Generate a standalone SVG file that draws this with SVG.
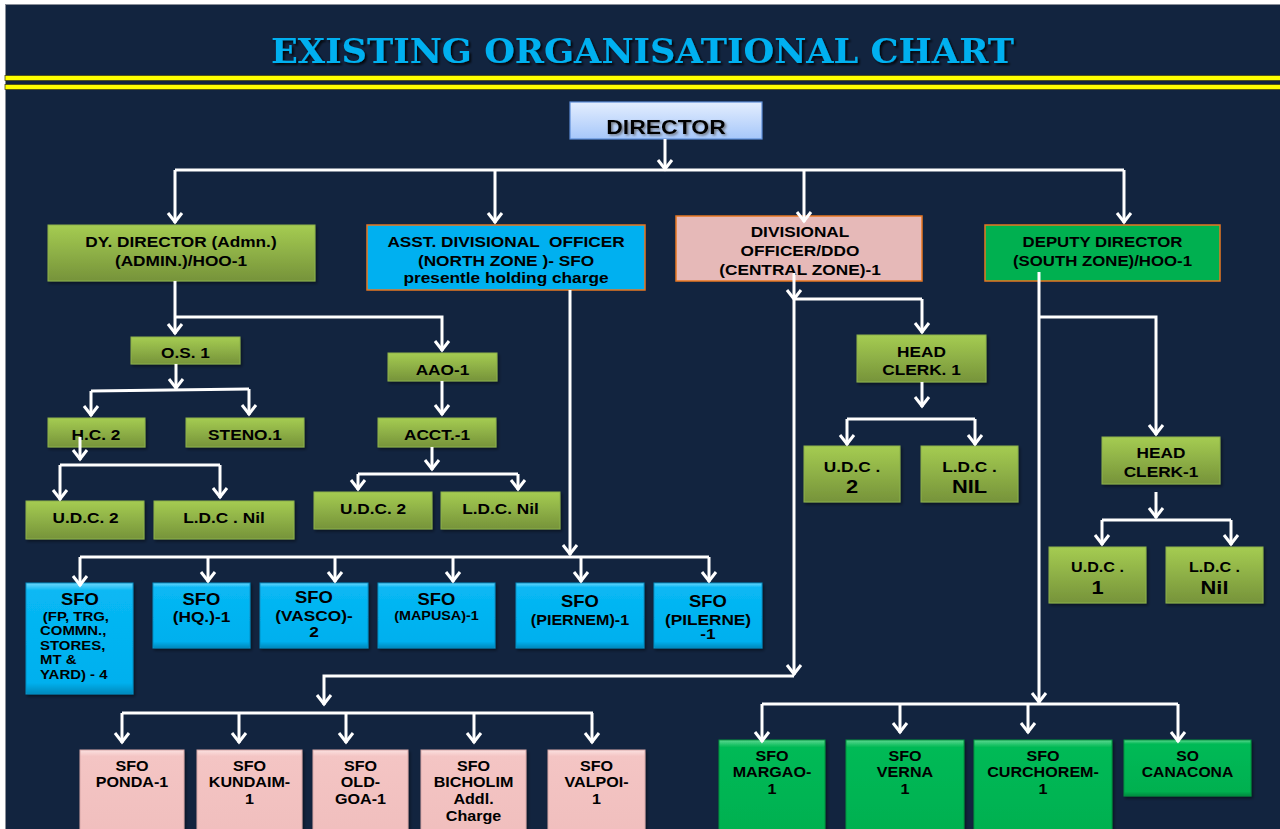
<svg xmlns="http://www.w3.org/2000/svg" width="1280" height="829" viewBox="0 0 1280 829">
<defs>
<style>
.t{font-family:"Liberation Sans",Arial,sans-serif;font-weight:bold;fill:#000;text-anchor:middle}
.s12{font-size:12.5px}.s13{font-size:13px}.s14{font-size:14px}.s15{font-size:15px}.s16{font-size:16px}.s19{font-size:19px}.s20{font-size:20px}
.lv1{stroke:#E87722;stroke-width:1.5}
.grn{fill:url(#gGreen);stroke:#8DB24A;stroke-width:1;filter:url(#sh)}
.blu{fill:url(#gBlue);stroke:#0A8FC4;stroke-width:1;filter:url(#sh)}
.pnk{fill:url(#gPink);stroke:#D8A8A7;stroke-width:1;filter:url(#sh)}
.gbv{fill:url(#gGrn2);stroke:#04933F;stroke-width:1;filter:url(#sh)}
.ln{fill:none;stroke:#fff;stroke-width:3}
.ar{marker-end:url(#ah)}
</style>
<linearGradient id="gGreen" x1="0" y1="0" x2="0" y2="1">
<stop offset="0" stop-color="#A5CC52"/><stop offset="1" stop-color="#76933A"/>
</linearGradient>
<linearGradient id="gDir" x1="0" y1="0" x2="0" y2="1">
<stop offset="0" stop-color="#E4EEFE"/><stop offset="1" stop-color="#A6C7FA"/>
</linearGradient>
<linearGradient id="gBlue" x1="0" y1="0" x2="0" y2="1">
<stop offset="0" stop-color="#6ED6FA"/><stop offset="0.07" stop-color="#08B8F4"/><stop offset="0.9" stop-color="#00B0EE"/><stop offset="1" stop-color="#0089BC"/>
</linearGradient>
<linearGradient id="gPink" x1="0" y1="0" x2="0" y2="1">
<stop offset="0" stop-color="#FBE1E0"/><stop offset="0.07" stop-color="#F4C5C4"/><stop offset="1" stop-color="#F0BEBD"/>
</linearGradient>
<linearGradient id="gGrn2" x1="0" y1="0" x2="0" y2="1">
<stop offset="0" stop-color="#5FD891"/><stop offset="0.07" stop-color="#00BA56"/><stop offset="0.92" stop-color="#00B050"/><stop offset="1" stop-color="#008A3E"/>
</linearGradient>
<filter id="sh" x="-10%" y="-10%" width="130%" height="140%">
<feDropShadow dx="1.5" dy="2" stdDeviation="1.5" flood-color="#000" flood-opacity="0.45"/>
</filter>
<filter id="tsh" x="-5%" y="-20%" width="110%" height="150%">
<feDropShadow dx="2" dy="2" stdDeviation="1" flood-color="#000" flood-opacity="0.85"/>
</filter>
<filter id="dsh" x="-5%" y="-20%" width="110%" height="150%">
<feDropShadow dx="1.5" dy="1.5" stdDeviation="0.8" flood-color="#555" flood-opacity="0.7"/>
</filter>
<marker id="ah" markerUnits="userSpaceOnUse" viewBox="-12 -9 14 18" markerWidth="14" markerHeight="18" refX="0" refY="0" orient="auto" overflow="visible">
<path d="M-10,-7 L-1,0 L-10,7" fill="none" stroke="#fff" stroke-width="3"/>
</marker>
</defs>

<!-- slide background -->
<rect x="0" y="0" width="1280" height="829" fill="#fff"/>
<rect x="5.5" y="4.5" width="1280" height="830" fill="#12243F" stroke="#8A8F99" stroke-width="1"/>

<!-- heading -->
<text x="271" y="63" textLength="743" lengthAdjust="spacingAndGlyphs" font-family="'DejaVu Serif','Liberation Serif',serif" font-weight="bold" font-size="33" fill="#00B0F0" filter="url(#tsh)">EXISTING ORGANISATIONAL CHART</text>
<rect x="5" y="75.5" width="1276" height="5" fill="#FFFF00" stroke="#4a4a10" stroke-width="0.8"/>
<rect x="5" y="84.5" width="1276" height="5" fill="#FFFF00" stroke="#4a4a10" stroke-width="0.8"/>

<!-- top -->
<g id="n-director">
<rect x="570" y="102" width="192" height="37" fill="url(#gDir)" stroke="#5E8ED8" stroke-width="1.2"/>
<text class="t s20" transform="matrix(1.15 0 0 1 666 0)" x="0" y="134" filter="url(#dsh)">DIRECTOR</text>
</g>

<!-- level 1 -->
<g id="n-dy-director">
<rect x="48" y="225" width="267" height="56" fill="url(#gGreen)" stroke="#8DB24A" filter="url(#sh)"/>
<text class="t s15" transform="matrix(1.15 0 0 1 181 0)"><tspan x="0" y="246.7">DY. DIRECTOR (Admn.)</tspan><tspan x="0" y="266">(ADMIN.)/HOO-1</tspan></text>
</g>
<g id="n-asst-div">
<rect class="lv1" x="367" y="225" width="278" height="65" fill="#00B0F0"/>
<text class="t s15" transform="matrix(1.15 0 0 1 506 0)" style="white-space:pre"><tspan x="0" y="246.7">ASST. DIVISIONAL  OFFICER</tspan><tspan x="0" y="266">(NORTH ZONE )- SFO</tspan><tspan x="0" y="283.3">presentle holding charge</tspan></text>
</g>
<g id="n-div-officer">
<rect class="lv1" x="676" y="216" width="246" height="65" fill="#E6B9B8"/>
<text class="t s15" transform="matrix(1.15 0 0 1 800 0)"><tspan x="0" y="237.3">DIVISIONAL</tspan><tspan x="0" y="256">OFFICER/DDO</tspan><tspan x="0" y="274.7">(CENTRAL ZONE)-1</tspan></text>
</g>
<g id="n-deputy-director">
<rect class="lv1" x="985" y="225" width="235" height="56" fill="#00B050"/>
<text class="t s15" transform="matrix(1.12 0 0 1 1102.5 0)"><tspan x="0" y="246.7">DEPUTY DIRECTOR</tspan><tspan x="0" y="266">(SOUTH ZONE)/HOO-1</tspan></text>
</g>

<!-- admin branch -->
<g id="n-os"><rect class="grn" x="131" y="337" width="109" height="27"/>
<text class="t s15" transform="matrix(1.15 0 0 1 185.5 0)" x="0" y="358.5">O.S. 1</text></g>
<g id="n-aao"><rect class="grn" x="388" y="353" width="109" height="28"/>
<text class="t s15" transform="matrix(1.15 0 0 1 442.5 0)" x="0" y="375.5">AAO-1</text></g>
<g id="n-hc"><rect class="grn" x="48" y="418" width="97" height="29"/>
<text class="t s15" transform="matrix(1.15 0 0 1 96 0)" x="0" y="440.5">H.C. 2</text></g>
<g id="n-steno"><rect class="grn" x="186" y="418" width="118" height="29"/>
<text class="t s15" transform="matrix(1.15 0 0 1 245 0)" x="0" y="440.5">STENO.1</text></g>
<g id="n-acct"><rect class="grn" x="378" y="418" width="118" height="29"/>
<text class="t s15" transform="matrix(1.15 0 0 1 437 0)" x="0" y="440.5">ACCT.-1</text></g>
<g id="n-udc-a"><rect class="grn" x="26" y="501" width="118" height="38"/>
<text class="t s15" transform="matrix(1.15 0 0 1 85.5 0)" x="0" y="523.3">U.D.C. 2</text></g>
<g id="n-ldc-a"><rect class="grn" x="154" y="501" width="140" height="38"/>
<text class="t s15" transform="matrix(1.15 0 0 1 224 0)" x="0" y="523.3">L.D.C . Nil</text></g>
<g id="n-udc-b"><rect class="grn" x="314" y="492" width="118" height="37"/>
<text class="t s15" transform="matrix(1.15 0 0 1 373 0)" x="0" y="514.3">U.D.C. 2</text></g>
<g id="n-ldc-b"><rect class="grn" x="441" y="492" width="119" height="37"/>
<text class="t s15" transform="matrix(1.15 0 0 1 500.5 0)" x="0" y="514.3">L.D.C. Nil</text></g>

<!-- central zone clerks -->
<g id="n-head-clerk-c"><rect class="grn" x="857" y="335" width="129" height="47"/>
<text class="t s15" transform="matrix(1.15 0 0 1 921.5 0)"><tspan x="0" y="356.7">HEAD</tspan><tspan x="0" y="375.3">CLERK. 1</tspan></text></g>
<g id="n-udc-c"><rect class="grn" x="804" y="446" width="96" height="56"/>
<text class="t s15" transform="matrix(1.15 0 0 1 852 0)" x="0" y="471.7">U.D.C .</text>
<text class="t s19" transform="matrix(1.15 0 0 1 852 0)" x="0" y="492.7">2</text></g>
<g id="n-ldc-c"><rect class="grn" x="921" y="446" width="97" height="56"/>
<text class="t s15" transform="matrix(1.15 0 0 1 969.5 0)" x="0" y="471.7">L.D.C .</text>
<text class="t s19" transform="matrix(1.15 0 0 1 969.5 0)" x="0" y="492.7">NIL</text></g>

<!-- south zone clerks -->
<g id="n-head-clerk-s"><rect class="grn" x="1102" y="437" width="118" height="47"/>
<text class="t s15" transform="matrix(1.15 0 0 1 1161 0)"><tspan x="0" y="458.3">HEAD</tspan><tspan x="0" y="477">CLERK-1</tspan></text></g>
<g id="n-udc-s"><rect class="grn" x="1049" y="547" width="97" height="56"/>
<text class="t s14" transform="matrix(1.15 0 0 1 1097.5 0)" x="0" y="572.3">U.D.C .</text>
<text class="t s19" transform="matrix(1.15 0 0 1 1097.5 0)" x="0" y="594.3">1</text></g>
<g id="n-ldc-s"><rect class="grn" x="1166" y="547" width="97" height="56"/>
<text class="t s14" transform="matrix(1.15 0 0 1 1214.5 0)" x="0" y="572.3">L.D.C .</text>
<text class="t s19" transform="matrix(1.15 0 0 1 1214.5 0)" x="0" y="594.3">Nil</text></g>

<!-- north zone stations -->
<g id="n-sfo-fp"><rect class="blu" x="26" y="583" width="107" height="111"/>
<text class="t s16" transform="matrix(1.15 0 0 1 80 0)" x="0" y="605">SFO</text>
<text class="t s13" transform="matrix(1.15 0 0 1 40 0)" style="text-anchor:start"><tspan x="2.5" y="621">(FP, TRG,</tspan><tspan x="0" y="635.5">COMMN.,</tspan><tspan x="0" y="649.8">STORES,</tspan><tspan x="0" y="664.3">MT &amp;</tspan><tspan x="0" y="679.3">YARD)  - 4</tspan></text></g>
<g id="n-sfo-hq"><rect class="blu" x="153" y="583" width="97" height="65"/>
<text class="t s16" transform="matrix(1.15 0 0 1 201.5 0)" x="0" y="605">SFO</text>
<text class="t s15" transform="matrix(1.15 0 0 1 201.5 0)" x="0" y="621.7">(HQ.)-1</text></g>
<g id="n-sfo-vasco"><rect class="blu" x="260" y="583" width="108" height="65"/>
<text class="t s16" transform="matrix(1.15 0 0 1 314 0)" x="0" y="603.3">SFO</text>
<text class="t s15" transform="matrix(1.15 0 0 1 314 0)"><tspan x="0" y="621">(VASCO)-</tspan><tspan x="0" y="636.7">2</tspan></text></g>
<g id="n-sfo-mapusa"><rect class="blu" x="378" y="583" width="117" height="65"/>
<text class="t s16" transform="matrix(1.15 0 0 1 436.5 0)" x="0" y="605">SFO</text>
<text class="t s12" transform="matrix(1.15 0 0 1 436.5 0)" x="0" y="620.3">(MAPUSA)-1</text></g>
<g id="n-sfo-piernem"><rect class="blu" x="516" y="583" width="128" height="65"/>
<text class="t s16" transform="matrix(1.15 0 0 1 580 0)" x="0" y="606.7">SFO</text>
<text class="t s14" transform="matrix(1.15 0 0 1 580 0)" x="0" y="625">(PIERNEM)-1</text></g>
<g id="n-sfo-pilerne"><rect class="blu" x="654" y="583" width="108" height="65"/>
<text class="t s16" transform="matrix(1.15 0 0 1 708 0)" x="0" y="606.7">SFO</text>
<text class="t s15" transform="matrix(1.15 0 0 1 708 0)"><tspan x="0" y="625">(PILERNE)</tspan><tspan x="0" y="639.3">-1</tspan></text></g>

<!-- central zone stations -->
<g id="n-sfo-ponda"><rect class="pnk" x="80" y="750" width="104" height="90"/>
<text class="t s14" transform="matrix(1.15 0 0 1 132 0)"><tspan x="0" y="771">SFO</tspan><tspan x="0" y="786.7">PONDA-1</tspan></text></g>
<g id="n-sfo-kundaim"><rect class="pnk" x="197" y="750" width="105" height="90"/>
<text class="t s14" transform="matrix(1.15 0 0 1 249.5 0)"><tspan x="0" y="771">SFO</tspan><tspan x="0" y="786.7">KUNDAIM-</tspan><tspan x="0" y="804">1</tspan></text></g>
<g id="n-sfo-oldgoa"><rect class="pnk" x="313" y="750" width="95" height="90"/>
<text class="t s14" transform="matrix(1.15 0 0 1 360.5 0)"><tspan x="0" y="771">SFO</tspan><tspan x="0" y="786.7">OLD-</tspan><tspan x="0" y="804">GOA-1</tspan></text></g>
<g id="n-sfo-bicholim"><rect class="pnk" x="421" y="750" width="105" height="90"/>
<text class="t s14" transform="matrix(1.15 0 0 1 473.5 0)"><tspan x="0" y="771">SFO</tspan><tspan x="0" y="786.7">BICHOLIM</tspan><tspan x="0" y="804">Addl.</tspan><tspan x="0" y="820.7">Charge</tspan></text></g>
<g id="n-sfo-valpoi"><rect class="pnk" x="548" y="750" width="97" height="90"/>
<text class="t s14" transform="matrix(1.15 0 0 1 596.5 0)"><tspan x="0" y="771">SFO</tspan><tspan x="0" y="786.7">VALPOI-</tspan><tspan x="0" y="804">1</tspan></text></g>

<!-- south zone stations -->
<g id="n-sfo-margao"><rect class="gbv" x="719" y="740" width="106" height="100"/>
<text class="t s14" transform="matrix(1.15 0 0 1 772 0)"><tspan x="0" y="760.7">SFO</tspan><tspan x="0" y="777.3">MARGAO-</tspan><tspan x="0" y="794">1</tspan></text></g>
<g id="n-sfo-verna"><rect class="gbv" x="846" y="740" width="118" height="100"/>
<text class="t s14" transform="matrix(1.15 0 0 1 905 0)"><tspan x="0" y="760.7">SFO</tspan><tspan x="0" y="777.3">VERNA</tspan><tspan x="0" y="794">1</tspan></text></g>
<g id="n-sfo-curchorem"><rect class="gbv" x="974" y="740" width="138" height="100"/>
<text class="t s14" transform="matrix(1.15 0 0 1 1043 0)"><tspan x="0" y="760.7">SFO</tspan><tspan x="0" y="777.3">CURCHOREM-</tspan><tspan x="0" y="794">1</tspan></text></g>
<g id="n-so-canacona"><rect class="gbv" x="1124" y="740" width="127" height="56"/>
<text class="t s14" transform="matrix(1.12 0 0 1 1187.5 0)"><tspan x="0" y="760.7">SO</tspan><tspan x="0" y="777.3">CANACONA</tspan></text></g>

<!-- connectors -->
<g id="connectors" class="ln">
<path class="ar" d="M665,139 V170"/>
<path d="M175,170 H1124"/>
<path class="ar" d="M175,170 V223"/>
<path class="ar" d="M495,170 V223"/>
<path class="ar" d="M804,170 V222"/>
<path class="ar" d="M1124,170 V223"/>

<path class="ar" d="M175,281 V334"/>
<path class="ar" d="M175,317 H442 V351"/>
<path class="ar" d="M176,364 V389"/>
<path d="M91,391 L249,389"/>
<path class="ar" d="M91,391 V416"/>
<path class="ar" d="M249,389 V415"/>
<path class="ar" d="M80,437 V460"/>
<path d="M60,465 H220"/>
<path class="ar" d="M60,465 V500"/>
<path class="ar" d="M220,465 V498"/>
<path class="ar" d="M442,381 V415"/>
<path class="ar" d="M432,447 V470"/>
<path d="M358,474 H518"/>
<path class="ar" d="M358,474 V490"/>
<path class="ar" d="M518,474 V490"/>

<path class="ar" d="M570,290 V555"/>
<path d="M80,557 H709"/>
<path class="ar" d="M80,557 V586"/>
<path class="ar" d="M208,557 V582"/>
<path class="ar" d="M335,557 V582"/>
<path class="ar" d="M453,557 V582"/>
<path class="ar" d="M581,557 V582"/>
<path class="ar" d="M709,557 V582"/>

<path class="ar" d="M794,273 V300"/>
<path class="ar" d="M794,300 V675"/>
<path class="ar" d="M922,299 V333"/>
<path d="M794,299 H922"/>
<path class="ar" d="M794,676 H324 V705"/>
<path d="M122,713 H593"/>
<path class="ar" d="M122,713 V743"/>
<path class="ar" d="M239,713 V743"/>
<path class="ar" d="M346,713 V743"/>
<path class="ar" d="M474,713 V743"/>
<path class="ar" d="M592,713 V743"/>
<path class="ar" d="M922,382 V407"/>
<path d="M847,419 H975"/>
<path class="ar" d="M847,419 V445"/>
<path class="ar" d="M975,419 V445"/>

<path class="ar" d="M1039,272 V703"/>
<path class="ar" d="M1039,317 H1156 V435"/>
<path class="ar" d="M1156,492 V518"/>
<path d="M1102,520 H1231"/>
<path class="ar" d="M1102,520 V545"/>
<path class="ar" d="M1231,520 V545"/>
<path d="M762,704 H1178"/>
<path class="ar" d="M762,704 V742"/>
<path class="ar" d="M900,704 V733"/>
<path class="ar" d="M1028,704 V733"/>
<path class="ar" d="M1178,704 V742"/>
</g>
</svg>
